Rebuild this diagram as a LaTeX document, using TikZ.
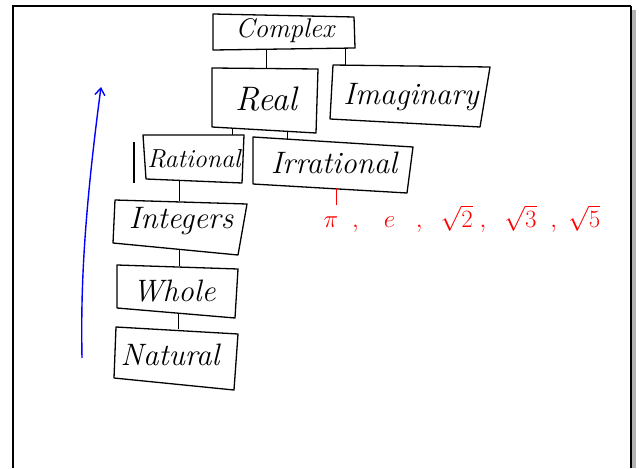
\documentclass[tikz,border=0pt]{standalone}
\usepackage{fontspec}
\usetikzlibrary{arrows.meta}
\begin{document}
\begin{tikzpicture}[x=1pt,y=-1pt,
  box/.style={draw=black,line width=1.3pt,line join=round},
  link/.style={draw=black,line width=1pt},
  lbl/.style={font=\itshape,inner sep=0pt},
  redtxt/.style={text=red,inner sep=0pt}]
\useasboundingbox (0,0) rectangle (639,468);
% frame
\fill[gray!60] (632,10) rectangle (636,468);
\draw[line width=2.4pt] (13,468) -- (13,6) -- (631,6);
\draw[line width=1.2pt] (631,6) -- (631,468);

% box corners
\coordinate (cA) at (213,14); \coordinate (cB) at (354,17); \coordinate (cC) at (355,48); \coordinate (cD) at (213,50);
\coordinate (rA) at (212,68); \coordinate (rB) at (318,69); \coordinate (rC) at (316,133); \coordinate (rD) at (212,127);
\coordinate (iA) at (333,65); \coordinate (iB) at (490,67); \coordinate (iC) at (480,127); \coordinate (iD) at (330,119);
\coordinate (raA) at (143,135); \coordinate (raB) at (244,135); \coordinate (raC) at (242,183); \coordinate (raD) at (146,179);
\coordinate (irA) at (253,137); \coordinate (irB) at (413,147); \coordinate (irC) at (407,193); \coordinate (irD) at (253,184);
\coordinate (inA) at (115,200); \coordinate (inB) at (247,204); \coordinate (inC) at (238,255); \coordinate (inD) at (113,243);
\coordinate (wA) at (117,265); \coordinate (wB) at (238,269); \coordinate (wC) at (235,318); \coordinate (wD) at (117,308);
\coordinate (nA) at (116,327); \coordinate (nB) at (238,334); \coordinate (nC) at (234,390); \coordinate (nD) at (114,378);

\draw[box] (cA) -- (cB) -- (cC) -- (cD) -- cycle;
\draw[box] (rA) -- (rB) -- (rC) -- (rD) -- cycle;
\draw[box] (iA) -- (iB) -- (iC) -- (iD) -- cycle;
\draw[box] (raA) -- (raB) -- (raC) -- (raD) -- cycle;
\draw[box] (134,142) -- (134,183);
\draw[box] (irA) -- (irB) -- (irC) -- (irD) -- cycle;
\draw[box] (inA) -- (inB) -- (inC) -- (inD) -- cycle;
\draw[box] (wA) -- (wB) -- (wC) -- (wD) -- cycle;
\draw[box] (nA) -- (nB) -- (nC) -- (nD) -- cycle;

% labels
\node[lbl,font=\itshape\fontsize{27}{29}\selectfont] (complex) at (285,31) {Complex};
\node[lbl,font=\itshape\fontsize{34}{36}\selectfont] (real) at (266,99) {Real};
\node[lbl,font=\itshape\fontsize{31}{33}\selectfont] (imag) at (411,97) {Imaginary};
\node[lbl,font=\itshape\fontsize{26}{28}\selectfont] (rational) at (194,159) {Rational};
\node[lbl,font=\itshape\fontsize{31}{33}\selectfont] (irrational) at (334,163) {Irrational};
\node[lbl,font=\itshape\fontsize{31}{33}\selectfont] (integers) at (181,221) {Integers};
\node[lbl,font=\itshape\fontsize{31}{33}\selectfont] (whole) at (174,291) {Whole};
\node[lbl,font=\itshape\fontsize{31}{33}\selectfont] (natural) at (170,355) {Natural};

% connector end points
\coordinate (c1) at (266,49); \coordinate (r1) at (266,68);
\coordinate (c2) at (345,48); \coordinate (i2) at (345,66);
\coordinate (r3) at (232,129); \coordinate (ra3) at (232,135);
\coordinate (r4) at (287,131); \coordinate (ir4) at (287,139);
\coordinate (ra5) at (179,181); \coordinate (in5) at (179,201);
\coordinate (in6) at (179,249); \coordinate (w6) at (179,266);
\coordinate (w7) at (178,313); \coordinate (n7) at (178,329);
\coordinate (ir8) at (336,188);

\draw[link] (c1) -- (r1);
\draw[link] (c2) -- (i2) -- (340,66);
\draw[link] (r3) -- (ra3);
\draw[link] (r4) -- (ir4);
\draw[link] (ra5) -- (in5);
\draw[link] (in6) -- (w6);
\draw[link] (w7) -- (n7);

% irrational examples
\node[redtxt,font=\fontsize{28}{30}\selectfont] (examples) at (462,219)
  {$\pi\;\;,\;\;\; e\;\;\;,\;\;\sqrt{2}\;,\;\;\sqrt{3}\;\;,\;\sqrt{5}$};
\draw[red,line width=1pt] (ir8) -- (ir8 |- examples.north);

% blue arrow
\coordinate (bS) at (82,358);
\coordinate (bE) at (101,87);
\draw[blue,line width=1.4pt,-{Straight Barb[length=7pt,width=10pt]}] (bS) .. controls (81,300) and (82,230) .. (bE);
\end{tikzpicture}
\end{document}
